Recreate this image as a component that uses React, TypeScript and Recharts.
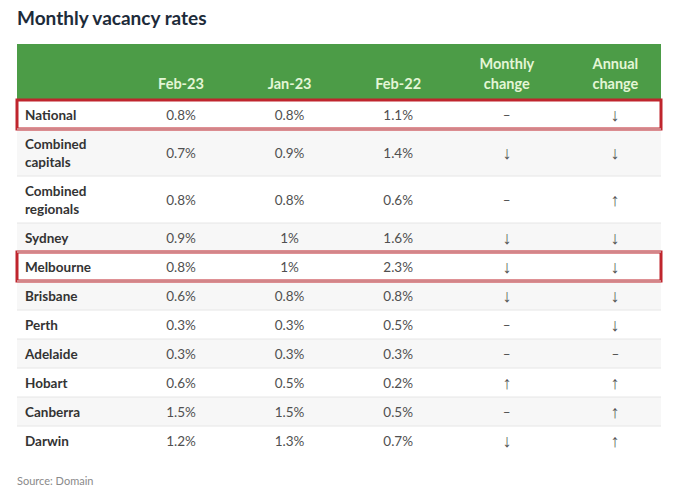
import React from "react";
import {
  ComposedChart,
  XAxis,
  YAxis,
  Scatter,
  ReferenceArea,
  ReferenceLine,
} from "recharts";

// ---------- data ----------
const rowLabels = [
  "National",
  "Combined\ncapitals",
  "Combined\nregionals",
  "Sydney",
  "Melbourne",
  "Brisbane",
  "Perth",
  "Adelaide",
  "Hobart",
  "Canberra",
  "Darwin",
];
const columnHeaders = ["Feb-23", "Jan-23", "Feb-22", "Monthly\nchange", "Annual\nchange"];
const feb23 = [0.8, 0.7, 0.8, 0.9, 0.8, 0.6, 0.3, 0.3, 0.6, 1.5, 1.2];
const jan23 = [0.8, 0.9, 0.8, 1, 1, 0.8, 0.3, 0.3, 0.5, 1.5, 1.3];
const feb22 = [1.1, 1.4, 0.6, 1.6, 2.3, 0.8, 0.5, 0.3, 0.2, 0.5, 0.7];
const monthlyChange = ["–", "↓", "–", "↓", "↓", "↓", "–", "–", "↑", "–", "↓"];
const annualChange = ["↓", "↓", "↑", "↓", "↓", "↓", "↓", "–", "↑", "↑", "↑"];
const highlightedRows = ["National", "Melbourne"];
const title = "Monthly vacancy rates";
const source = "Source: Domain";

// ---------- layout ----------
const FONT = "Lato, 'Open Sans', sans-serif";
const HEADER_H = 56;
const LINE_H = 18;
const ROW_PAD = 11;
const X_MIN = -0.51;
const X_MAX = 5.42;

const rowHeights = rowLabels.map((l) => l.split("\n").length * LINE_H + ROW_PAD);
const rowTops: number[] = [];
rowHeights.reduce((acc, h) => {
  rowTops.push(acc);
  return acc + h;
}, HEADER_H);
const TOTAL = HEADER_H + rowHeights.reduce((a, b) => a + b, 0);

const fmt = (v: number) => `${v}%`;
const columns: string[][] = [
  feb23.map(fmt),
  jan23.map(fmt),
  feb22.map(fmt),
  monthlyChange,
  annualChange,
];

const cellData = columns.flatMap((col, ci) =>
  col.map((text, ri) => ({
    x: ci + 1,
    y: rowTops[ri] + rowHeights[ri] / 2,
    text,
  }))
);
const labelData = rowLabels.map((label, ri) => ({
  x: X_MIN,
  y: rowTops[ri] + rowHeights[ri] / 2,
  text: label,
}));
const headerData = columnHeaders.map((h, ci) => ({
  x: ci + 1,
  y: 39,
  text: h,
}));

const CellShape = (props: any) => {
  const { cx, cy, payload } = props;
  const isArrow = payload.text === "↑" || payload.text === "↓";
  return (
    <text
      x={isArrow ? Math.round(cx) : cx}
      y={cy}
      textAnchor="middle"
      dominantBaseline="central"
      fontFamily={isArrow ? "'Liberation Sans', 'DejaVu Sans', sans-serif" : FONT}
      fontSize={isArrow ? 18 : 13.5}
      fill={isArrow ? "#555" : "#505050"}
    >
      {payload.text}
    </text>
  );
};

const LabelShape = (props: any) => {
  const { cx, cy, payload } = props;
  const lines = String(payload.text).split("\n");
  const start = cy - ((lines.length - 1) * LINE_H) / 2;
  return (
    <text
      x={cx + 8}
      textAnchor="start"
      dominantBaseline="central"
      fontFamily={FONT}
      fontWeight={700}
      fontSize={13.5}
      fill="#333"
    >
      {lines.map((l, i) => (
        <tspan key={i} x={cx + 8} y={start + i * LINE_H}>
          {l}
        </tspan>
      ))}
    </text>
  );
};

const HeaderShape = (props: any) => {
  const { cx, cy, payload } = props;
  const lines = String(payload.text).split("\n");
  const start = cy - (lines.length - 1) * 20;
  return (
    <text
      x={cx}
      textAnchor="middle"
      dominantBaseline="central"
      fontFamily={FONT}
      fontWeight={700}
      fontSize={14.5}
      fill="#e4f6d6"
    >
      {lines.map((l, i) => (
        <tspan key={i} x={cx} y={start + i * 20}>
          {l}
        </tspan>
      ))}
    </text>
  );
};

export default function App() {
  return (
    <div style={{ position: "relative", width: 672, height: 487, background: "#fff" }}>
      <div
        style={{
          position: "absolute",
          left: 9,
          top: -2,
          fontFamily: FONT,
          fontWeight: 700,
          fontSize: 19,
          lineHeight: "24px",
          color: "#1d2b3a",
          whiteSpace: "nowrap",
        }}
      >
        {title}
      </div>
      <ComposedChart
        width={672}
        height={487}
        margin={{ top: 36, right: 19, bottom: 40, left: 9 }}
        data={cellData}
      >
        <XAxis
          type="number"
          dataKey="x"
          domain={[X_MIN, X_MAX]}
          allowDataOverflow
          hide
        />
        <YAxis
          type="number"
          dataKey="y"
          domain={[0, TOTAL]}
          reversed
          allowDataOverflow
          hide
        />
        <ReferenceArea
          x1={X_MIN}
          x2={X_MAX}
          y1={0}
          y2={HEADER_H}
          fill="#4c9c47"
          fillOpacity={1}
          stroke="none"
        />
        {rowLabels.map((l, ri) => (
          <ReferenceArea
            key={"bg" + ri}
            x1={X_MIN}
            x2={X_MAX}
            y1={rowTops[ri]}
            y2={rowTops[ri] + rowHeights[ri]}
            fill={ri % 2 === 1 ? "#f7f7f7" : "#ffffff"}
            fillOpacity={1}
            stroke="none"
          />
        ))}
        {rowLabels.slice(1).map((l, i) => (
          <ReferenceLine
            key={"sep" + i}
            y={rowTops[i + 1]}
            stroke="#e6e6e6"
            strokeWidth={1}
          />
        ))}
        {rowLabels.map((l, ri) =>
          highlightedRows.includes(l) ? (
            <ReferenceArea
              key={"hl" + ri}
              x1={X_MIN}
              x2={X_MAX}
              y1={rowTops[ri]}
              y2={rowTops[ri] + rowHeights[ri]}
              fill="none"
              stroke="#bf252d"
              strokeWidth={3}
            />
          ) : null
        )}
        <Scatter data={headerData} shape={HeaderShape} isAnimationActive={false} />
        <Scatter data={labelData} shape={LabelShape} isAnimationActive={false} />
        <Scatter data={cellData} shape={CellShape} isAnimationActive={false} />
      </ComposedChart>
      <div
        style={{
          position: "absolute",
          left: 9,
          top: 465,
          fontFamily: FONT,
          fontSize: 11,
          lineHeight: "16px",
          color: "#8a8a8a",
          whiteSpace: "nowrap",
        }}
      >
        {source}
      </div>
    </div>
  );
}
